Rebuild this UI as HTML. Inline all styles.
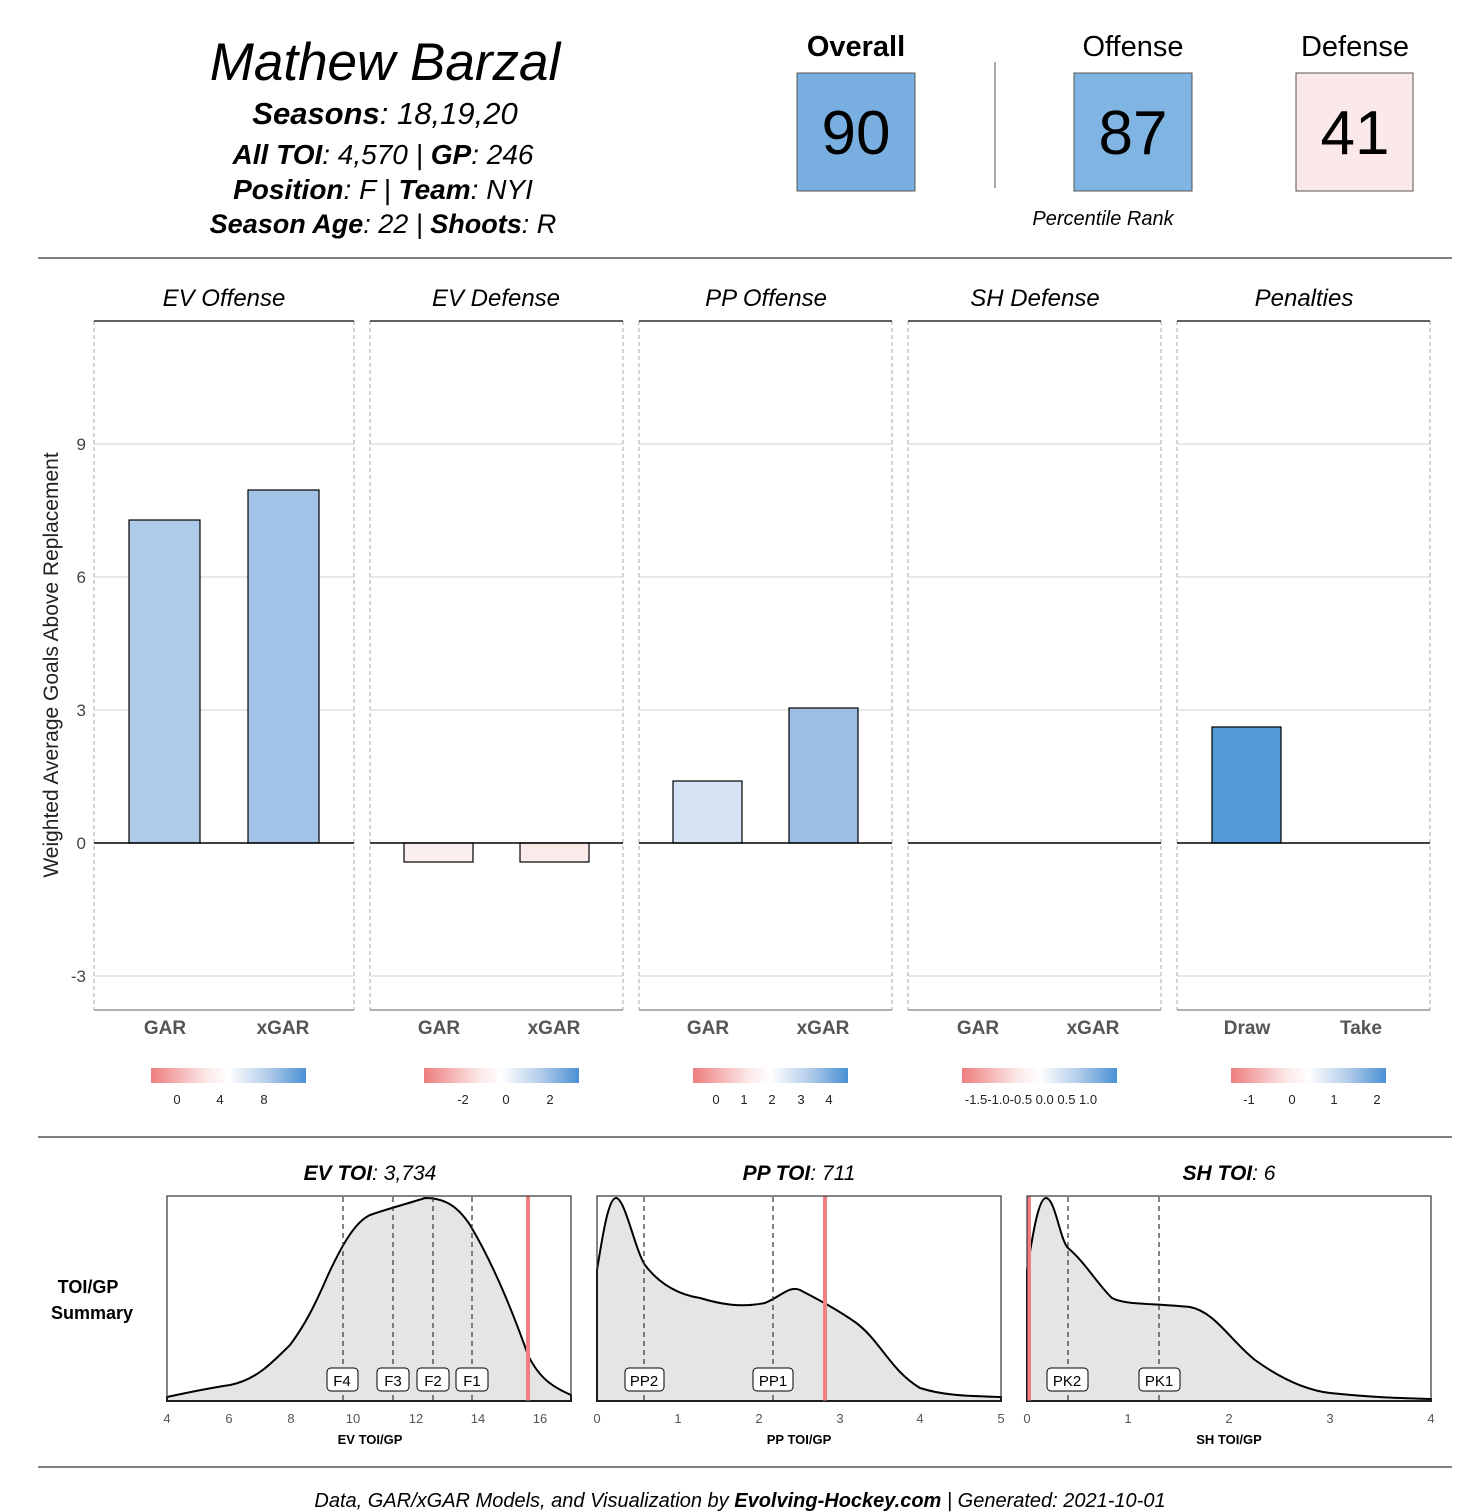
<!DOCTYPE html><html><head><meta charset="utf-8"><style>body{margin:0;background:#fff}svg{display:block}text{font-family:"Liberation Sans","DejaVu Sans",sans-serif}</style></head><body>
<svg width="1476" height="1512" viewBox="0 0 1476 1512" xmlns="http://www.w3.org/2000/svg">
<defs><linearGradient id="g" x1="0" x2="1"><stop offset="0" stop-color="#ee7d7d"/><stop offset="0.35" stop-color="#fbe6e6"/><stop offset="0.5" stop-color="#ffffff"/><stop offset="0.75" stop-color="#b3cdea"/><stop offset="1" stop-color="#4a90d4"/></linearGradient></defs>
<g font-style="italic" text-anchor="middle" fill="#000">
<text x="385" y="80" font-size="53">Mathew Barzal</text>
<text x="385" y="124" font-size="31"><tspan font-weight="bold">Seasons</tspan>: 18,19,20</text>
<text x="383" y="164" font-size="28"><tspan font-weight="bold">All TOI</tspan>: 4,570 | <tspan font-weight="bold">GP</tspan>: 246</text>
<text x="383" y="199" font-size="28"><tspan font-weight="bold">Position</tspan>: F | <tspan font-weight="bold">Team</tspan>: NYI</text>
<text x="383" y="233" font-size="27"><tspan font-weight="bold">Season Age</tspan>: 22 | <tspan font-weight="bold">Shoots</tspan>: R</text>
</g>
<g text-anchor="middle" font-size="29">
<text x="856" y="56" font-weight="bold">Overall</text>
<text x="1133" y="56">Offense</text>
<text x="1355" y="56">Defense</text>
</g>
<line x1="995" y1="62" x2="995" y2="188" stroke="#aaa" stroke-width="2"/>
<rect x="797" y="73" width="118" height="118" fill="#78aee0" stroke="#555"/>
<rect x="1074" y="73" width="118" height="118" fill="#80b4e2" stroke="#555"/>
<rect x="1296" y="73" width="117" height="118" fill="#fbe8e8" stroke="#555"/>
<g text-anchor="middle" font-size="62"><text x="856" y="154">90</text><text x="1133" y="154">87</text><text x="1355" y="154">41</text></g>
<text x="1103" y="225" font-size="20" font-style="italic" text-anchor="middle">Percentile Rank</text>
<line x1="38" y1="258" x2="1452" y2="258" stroke="#555" stroke-width="1.5"/>
<text transform="translate(58,665) rotate(-90)" font-size="21" text-anchor="middle" fill="#222">Weighted Average Goals Above Replacement</text>
<g font-size="17" fill="#444" text-anchor="end"><text x="86" y="450">9</text><text x="86" y="583">6</text><text x="86" y="716">3</text><text x="86" y="849">0</text><text x="86" y="982">-3</text></g>
<g stroke="#d0d0d0" stroke-width="1">
<path d="M94 444H354M94 577H354M94 710H354M94 976H354M370 444H623M370 577H623M370 710H623M370 976H623M639 444H892M639 577H892M639 710H892M639 976H892M908 444H1161M908 577H1161M908 710H1161M908 976H1161M1177 444H1430M1177 577H1430M1177 710H1430M1177 976H1430"/>
</g>
<g stroke="#aaa" stroke-dasharray="4,3" fill="none">
<path d="M94 321V1010M354 321V1010M370 321V1010M623 321V1010M639 321V1010M892 321V1010M908 321V1010M1161 321V1010M1177 321V1010M1430 321V1010"/>
</g>
<g stroke="#000" stroke-width="1.2"><path d="M94 321H354M370 321H623M639 321H892M908 321H1161M1177 321H1430"/></g>
<g stroke="#666" stroke-width="1"><path d="M94 1010H354M370 1010H623M639 1010H892M908 1010H1161M1177 1010H1430"/></g>
<g stroke="#000" stroke-width="1.2">
<rect x="129" y="520" width="71" height="323" fill="#aecbea"/>
<rect x="248" y="490" width="71" height="353" fill="#a2c2e8"/>
<rect x="404" y="843" width="69" height="19" fill="#fbeeee"/>
<rect x="520" y="843" width="69" height="19" fill="#fbeaea"/>
<rect x="673" y="781" width="69" height="62" fill="#d6e3f4"/>
<rect x="789" y="708" width="69" height="135" fill="#9cbde6"/>
<rect x="1212" y="727" width="69" height="116" fill="#5299d7"/>
</g>
<g stroke="#000" stroke-width="1.5"><path d="M94 843H354M370 843H623M639 843H892M908 843H1161M1177 843H1430"/></g>
<g font-size="24" font-style="italic" text-anchor="middle">
<text x="224" y="306">EV Offense</text><text x="496" y="306">EV Defense</text><text x="766" y="306">PP Offense</text><text x="1035" y="306">SH Defense</text><text x="1304" y="306">Penalties</text>
</g>
<g font-size="19" font-weight="bold" fill="#555" text-anchor="middle">
<text x="165" y="1034">GAR</text><text x="283" y="1034">xGAR</text><text x="439" y="1034">GAR</text><text x="554" y="1034">xGAR</text><text x="708" y="1034">GAR</text><text x="823" y="1034">xGAR</text><text x="978" y="1034">GAR</text><text x="1093" y="1034">xGAR</text><text x="1247" y="1034">Draw</text><text x="1361" y="1034">Take</text>
</g>
<g fill="url(#g)"><rect x="151" y="1068" width="155" height="15"/><rect x="424" y="1068" width="155" height="15"/><rect x="693" y="1068" width="155" height="15"/><rect x="962" y="1068" width="155" height="15"/><rect x="1231" y="1068" width="155" height="15"/></g>
<g font-size="13" text-anchor="middle" fill="#222">
<text x="177" y="1104">0</text><text x="220" y="1104">4</text><text x="264" y="1104">8</text>
<text x="463" y="1104">-2</text><text x="506" y="1104">0</text><text x="550" y="1104">2</text>
<text x="716" y="1104">0</text><text x="744" y="1104">1</text><text x="772" y="1104">2</text><text x="801" y="1104">3</text><text x="829" y="1104">4</text>
<text x="1031" y="1104">-1.5-1.0-0.5 0.0  0.5  1.0</text>
<text x="1249" y="1104">-1</text><text x="1292" y="1104">0</text><text x="1334" y="1104">1</text><text x="1377" y="1104">2</text>
</g>
<line x1="38" y1="1137" x2="1452" y2="1137" stroke="#555" stroke-width="1.5"/>
<g font-size="21" font-style="italic" text-anchor="middle">
<text x="370" y="1180"><tspan font-weight="bold">EV TOI</tspan>: 3,734</text>
<text x="799" y="1180"><tspan font-weight="bold">PP TOI</tspan>: 711</text>
<text x="1229" y="1180"><tspan font-weight="bold">SH TOI</tspan>: 6</text>
</g>
<g font-size="18" font-weight="bold" text-anchor="middle"><text x="88" y="1293">TOI/GP</text><text x="92" y="1319">Summary</text></g>
<g fill="#e5e5e5" stroke="#000" stroke-width="2">
<path d="M167 1397 C190 1392 210 1388 230 1385 C255 1380 270 1365 290 1345 C305 1325 315 1305 328 1275 C342 1245 355 1222 370 1215 C390 1208 410 1203 425 1198 C440 1198 455 1202 470 1225 C485 1250 505 1290 528 1355 C540 1380 555 1388 571 1395 L571 1401 L167 1401 Z"/>
<path d="M597 1270 C602 1240 608 1198 616 1198 C625 1198 635 1250 645 1265 C660 1285 680 1295 700 1298 C720 1304 740 1308 765 1303 C780 1297 790 1285 800 1290 C815 1298 835 1308 855 1322 C880 1340 890 1370 920 1388 C945 1396 970 1396 1001 1397 L1001 1401 L597 1401 Z"/>
<path d="M1027 1270 C1032 1240 1038 1198 1046 1198 C1055 1198 1060 1240 1068 1248 C1085 1262 1098 1285 1112 1298 C1125 1305 1150 1303 1190 1307 C1215 1312 1230 1340 1255 1360 C1280 1378 1305 1390 1330 1393 C1380 1398 1400 1398 1431 1399 L1431 1401 L1027 1401 Z"/>
</g>
<g stroke="#333" stroke-dasharray="5,4" stroke-width="1.2"><path d="M343 1197V1401M393 1197V1401M433 1197V1401M472 1197V1401M644 1197V1401M773 1197V1401M1068 1197V1401M1159 1197V1401"/></g>
<g stroke="#f08080" stroke-width="4"><path d="M528 1196V1401M825 1196V1401M1029 1196V1401"/></g>
<g fill="none" stroke="#333" stroke-width="1.2"><rect x="167" y="1196" width="404" height="205"/><rect x="597" y="1196" width="404" height="205"/><rect x="1027" y="1196" width="404" height="205"/></g>
<g font-size="15" text-anchor="middle">
<g fill="#fff" stroke="#000"><rect x="327" y="1368" width="31" height="23" rx="4"/><rect x="377" y="1368" width="32" height="23" rx="4"/><rect x="417" y="1368" width="32" height="23" rx="4"/><rect x="456" y="1368" width="32" height="23" rx="4"/><rect x="625" y="1368" width="39" height="23" rx="4"/><rect x="753" y="1368" width="40" height="23" rx="4"/><rect x="1047" y="1368" width="41" height="23" rx="4"/><rect x="1139" y="1368" width="41" height="23" rx="4"/></g>
<text x="342" y="1386">F4</text><text x="393" y="1386">F3</text><text x="433" y="1386">F2</text><text x="472" y="1386">F1</text><text x="644" y="1386">PP2</text><text x="773" y="1386">PP1</text><text x="1067" y="1386">PK2</text><text x="1159" y="1386">PK1</text>
</g>
<g font-size="13" fill="#555" text-anchor="middle">
<text x="167" y="1423">4</text><text x="229" y="1423">6</text><text x="291" y="1423">8</text><text x="353" y="1423">10</text><text x="416" y="1423">12</text><text x="478" y="1423">14</text><text x="540" y="1423">16</text>
<text x="597" y="1423">0</text><text x="678" y="1423">1</text><text x="759" y="1423">2</text><text x="840" y="1423">3</text><text x="920" y="1423">4</text><text x="1001" y="1423">5</text>
<text x="1027" y="1423">0</text><text x="1128" y="1423">1</text><text x="1229" y="1423">2</text><text x="1330" y="1423">3</text><text x="1431" y="1423">4</text>
</g>
<g font-size="13" font-weight="bold" text-anchor="middle"><text x="370" y="1444">EV TOI/GP</text><text x="799" y="1444">PP TOI/GP</text><text x="1229" y="1444">SH TOI/GP</text></g>
<line x1="38" y1="1467" x2="1452" y2="1467" stroke="#555" stroke-width="1.5"/>
<text x="740" y="1507" font-size="20" font-style="italic" text-anchor="middle">Data, GAR/xGAR Models, and Visualization by <tspan font-weight="bold">Evolving-Hockey.com</tspan> | Generated:  2021-10-01</text>
</svg></body></html>
